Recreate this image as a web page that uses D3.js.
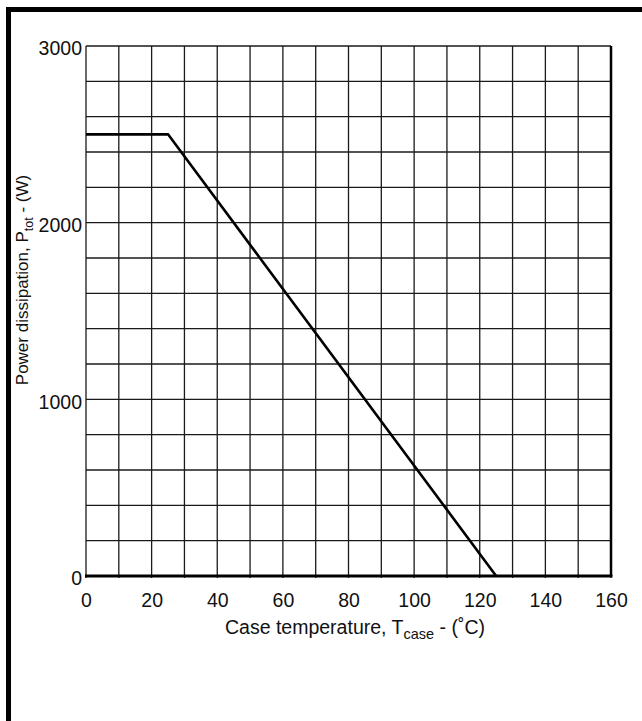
<!DOCTYPE html>
<html>
<head>
<meta charset="utf-8">
<script src="https://cdn.jsdelivr.net/npm/d3@7/dist/d3.min.js"></script>
<style>
  html, body { margin: 0; padding: 0; background: #fff; }
  svg { display: block; font-family: "Liberation Sans", Arial, sans-serif; }
</style>
</head>
<body>
<svg id="chart" width="642" height="721"></svg>
<script>
// derating curve
const caseTemp = [0, 25, 125]
const powerDiss = [2500, 2500, 0]

const xTickLabels = [0, 20, 40, 60, 80, 100, 120, 140, 160]
const yTickLabels = [0, 1000, 2000, 3000]
const xGridStep = 10
const yGridStep = 200

const width = 642
const height = 721
const margin = { top: 46, right: 31, bottom: 145, left: 86 }
const aWidth = width - margin.left - margin.right
const aHeight = height - margin.top - margin.bottom

const svg = d3.select('#chart')

// page frame (left + top only)
svg.append('rect').attr('x', 6).attr('y', 7).attr('width', 5).attr('height', height - 7).attr('fill', '#000')
svg.append('rect').attr('x', 6).attr('y', 7).attr('width', width - 6).attr('height', 5).attr('fill', '#000')

const g = svg.append('g')
  .attr('transform', 'translate(' + margin.left + ',' + margin.top + ')')

const xScale = d3.scaleLinear().domain([0, 160]).range([0, aWidth])
const yScale = d3.scaleLinear().domain([0, 3000]).range([aHeight, 0])

// grid
g.append('g')
  .selectAll('line')
  .data(d3.range(0, 161, xGridStep))
  .join('line')
    .attr('x1', d => xScale(d)).attr('x2', d => xScale(d))
    .attr('y1', 0).attr('y2', aHeight + 2)
    .attr('stroke', '#1a1a1a')
    .attr('stroke-width', 1.3)

g.append('g')
  .selectAll('line')
  .data(d3.range(0, 3001, yGridStep))
  .join('line')
    .attr('x1', 0).attr('x2', aWidth)
    .attr('y1', d => yScale(d)).attr('y2', d => yScale(d))
    .attr('stroke', '#1a1a1a')
    .attr('stroke-width', 1.3)

// heavier bottom and right edges
g.append('line')
  .attr('x1', -1).attr('x2', aWidth + 1.5)
  .attr('y1', aHeight).attr('y2', aHeight)
  .attr('stroke', '#000').attr('stroke-width', 3)
g.append('line')
  .attr('x1', aWidth).attr('x2', aWidth)
  .attr('y1', 0).attr('y2', aHeight)
  .attr('stroke', '#000').attr('stroke-width', 2.5)

// axes (labels only)
const xAxis = d3.axisBottom(xScale).tickValues(xTickLabels).tickFormat(d3.format('d')).tickSize(0).tickPadding(0)
const yAxis = d3.axisLeft(yScale).tickValues(yTickLabels).tickFormat(d3.format('d')).tickSize(0).tickPadding(0)

const gx = g.append('g')
  .attr('transform', 'translate(0,' + aHeight + ')')
  .call(xAxis)
gx.select('.domain').remove()
gx.selectAll('text')
  .attr('y', 31).attr('dy', 0)
  .attr('fill', '#111')
  .style('font-size', '19.5px')
  .style('font-family', '"Liberation Sans", Arial, sans-serif')

const gy = g.append('g').call(yAxis)
gy.select('.domain').remove()
gy.selectAll('text')
  .attr('x', -4).attr('dy', '0.45em')
  .attr('fill', '#111')
  .style('font-size', '19.5px')
  .style('font-family', '"Liberation Sans", Arial, sans-serif')

// curve
const line = d3.line()
  .x((d, i) => xScale(caseTemp[i]))
  .y(d => yScale(d))

g.append('path')
  .datum(powerDiss)
  .attr('fill', 'none')
  .attr('stroke', '#000')
  .attr('stroke-width', 2.6)
  .attr('stroke-linejoin', 'miter')
  .attr('d', line)

// axis titles
const xTitle = svg.append('text')
  .attr('x', 355).attr('y', 634)
  .attr('text-anchor', 'middle')
  .attr('fill', '#111')
  .style('font-size', '19.5px')
xTitle.append('tspan').text('Case temperature, T')
xTitle.append('tspan').attr('dy', 5).style('font-size', '14.5px').text('case')
xTitle.append('tspan').attr('dy', -5).text(' - (\u02daC)')

const yTitle = svg.append('text')
  .attr('transform', 'translate(28,280) rotate(-90)')
  .attr('text-anchor', 'middle')
  .attr('fill', '#111')
  .style('font-size', '17px')
yTitle.append('tspan').text('Power dissipation, P')
yTitle.append('tspan').attr('dy', 5).style('font-size', '12.5px').text('tot')
yTitle.append('tspan').attr('dy', -5).text(' - (W)')
</script>
</body>
</html>
